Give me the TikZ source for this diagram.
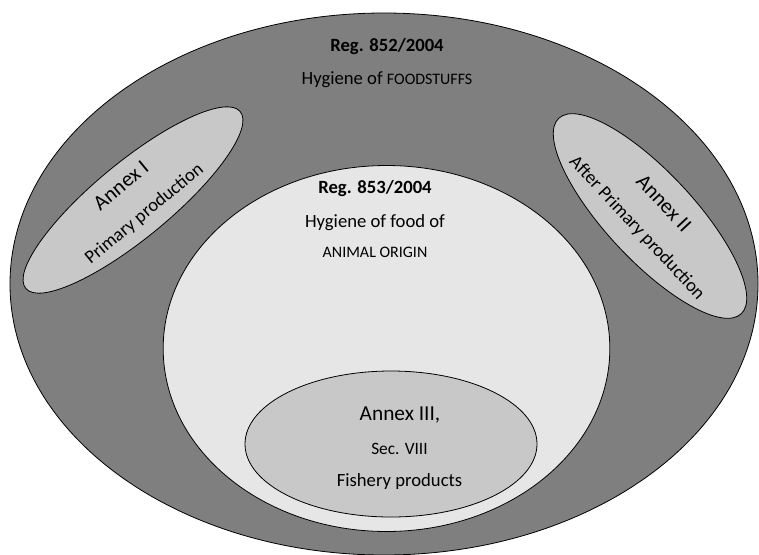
\documentclass[tikz,border=0pt]{standalone}
\usepackage{fontspec}
\setmainfont{Carlito}
\usetikzlibrary{shapes.geometric}

\definecolor{outergray}{HTML}{7F7F7F}
\definecolor{innergray}{HTML}{E6E6E6}
\definecolor{annexgray}{HTML}{C8C8C8}

\newcommand{\annexname}[1]{{\fontsize{16}{26.5}\selectfont #1}}

\tikzset{
    zone/.style={draw=black, line width=0.6pt, ellipse, inner sep=0pt},
    annex/.style={zone, fill=annexgray, align=center, font=\fontsize{14}{26.5}\selectfont},
    regtitle/.style={font=\fontsize{14}{17}\selectfont\bfseries},
    regtext/.style={font=\fontsize{14}{17}\selectfont},
    smallcaps/.style={font=\fontsize{12}{14}\selectfont}
}

\begin{document}
\begin{tikzpicture}[x=0.75pt, y=-0.75pt]
        \useasboundingbox (0,0) rectangle (759,554);

        % Regulation areas
        \node[zone, fill=outergray, minimum width=561pt, minimum height=406.5pt] (reg852) at (384,284) {};
        \node[zone, fill=innergray, minimum width=335pt, minimum height=274.5pt] (reg853) at (386.5,348.5) {};

        % Annexes
        \node[annex, minimum width=208.5pt, minimum height=57pt, rotate=39.5] (annexI) at (133,200) {\annexname{Annex I}\\Primary production};
        \node[annex, minimum width=199.5pt, minimum height=66pt, rotate=-47] (annexII) at (650,216) {\annexname{Annex II}\\After Primary production};
        \node[zone, fill=annexgray, minimum width=219pt, minimum height=109.5pt] (annexIII) at (391,444) {};

        % Texts of Reg. 852/2004
        \node[regtitle] (title852) at (387,47) {Reg. 852/2004};
        \node[regtext] (scope852) at (387,80) {Hygiene of {\fontsize{12}{14}\selectfont FOODSTUFFS}};

        % Texts of Reg. 853/2004
        \node[regtitle] (title853) at (375,189) {Reg. 853/2004};
        \node[regtext] (scope853) at (375,223) {Hygiene of food of};
        \node[smallcaps] (origin853) at (375,252) {ANIMAL ORIGIN};

        % Texts of Annex III
        \node[font=\fontsize{16}{19}\selectfont] (nameIII) at (400,415) {Annex III,};
        \node[font=\fontsize{13}{16}\selectfont] (secIII) at (399.5,449) {Sec. VIII};
        \node[regtext] (fishIII) at (399.5,482) {Fishery products};
\end{tikzpicture}
\end{document}
